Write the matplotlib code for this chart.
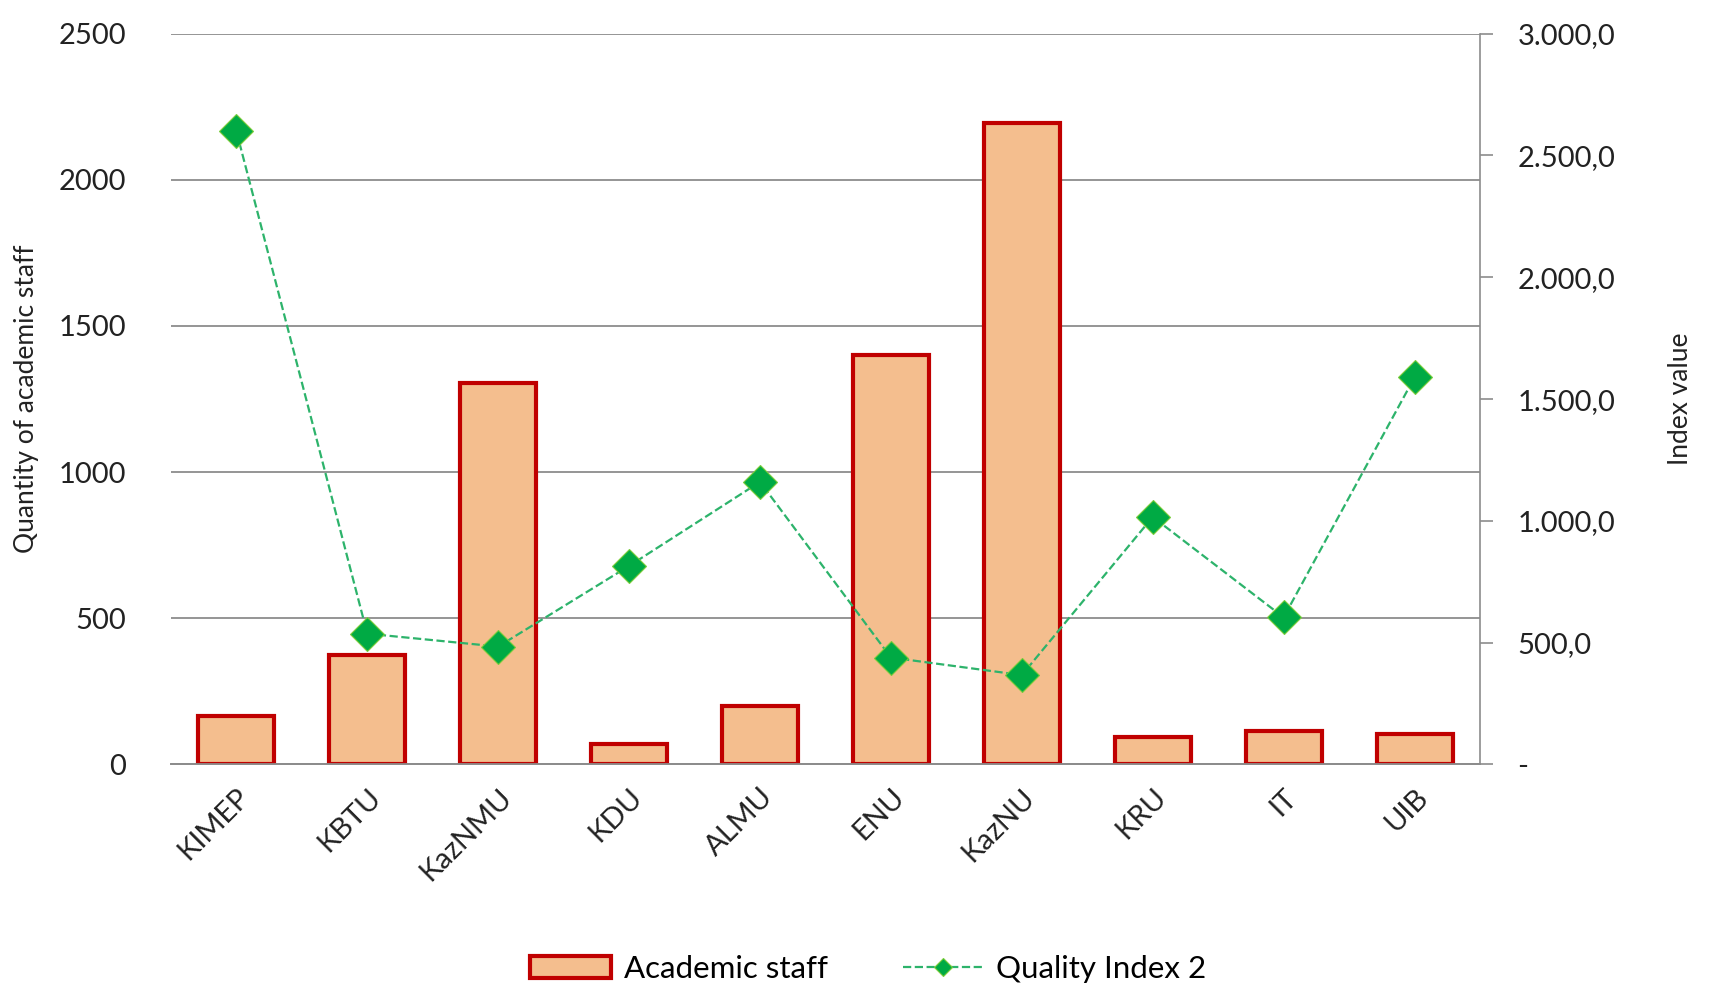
import numpy as np
import matplotlib.pyplot as plt
from matplotlib.ticker import FuncFormatter

plt.rcParams['font.family'] = ['Lato', 'DejaVu Sans']

universities = ['KIMEP', 'KBTU', 'KazNMU', 'KDU', 'ALMU', 'ENU', 'KazNU', 'KRU', 'IT', 'UIB']
academic_staff = [165, 375, 1305, 70, 200, 1400, 2195, 95, 115, 105]
quality_index = [2600, 537, 484, 815, 1160, 439, 367, 1016, 604, 1589]

fig = plt.figure(figsize=(17.09, 9.89), dpi=100)
ax = fig.add_axes([0.100, 0.227, 0.766, 0.739])
ax2 = ax.twinx()

x = np.arange(len(universities))
ax.bar(x, academic_staff, width=0.58, color='#F4BE8E', edgecolor='#C00000', linewidth=3, zorder=3, label='Academic staff')
ax2.plot(x, quality_index, linestyle='--', color='#2DB36B', linewidth=1.6, marker='D', markersize=17,
         markerfacecolor='#00AA44', markeredgecolor='#7ACC3A', markeredgewidth=0.8, zorder=4, label='Quality Index 2')

ax.set_xlim(-0.5, 9.5)
ax.set_ylim(0, 2500)
ax.set_yticks([0, 500, 1000, 1500, 2000, 2500])
ax.yaxis.grid(True, color='#8C8C8C', linewidth=1.3, zorder=0)
ax.set_axisbelow(True)
ax.tick_params(axis='y', length=0, labelsize=21, pad=32, colors='#222222')
ax.tick_params(axis='x', length=0, labelsize=21, pad=14, colors='#222222')
ax.set_xticks(x)
ax.set_xticklabels(universities, rotation=45, ha='right', rotation_mode='anchor')
ax.set_ylabel('Quantity of academic staff', fontsize=19, color='#222222', labelpad=14)

ax2.set_ylim(0, 3000)
ax2.set_yticks([0, 500, 1000, 1500, 2000, 2500, 3000])
ax2.yaxis.set_major_formatter(FuncFormatter(lambda v, p: '-' if v == 0 else f'{v:,.1f}'.replace(',', 'X').replace('.', ',').replace('X', '.')))
ax2.tick_params(axis='y', direction='out', length=9, width=1.2, color='#8C8C8C', labelsize=21, pad=18, colors='#222222')
ax2.tick_params(axis='y', color='#8C8C8C')
ax2.set_ylabel('Index value', fontsize=19, color='#222222', labelpad=38)

for a in (ax, ax2):
    a.spines['top'].set_visible(False)
    a.spines['left'].set_visible(False)
    a.spines['right'].set_visible(False)
    a.spines['bottom'].set_color('#8C8C8C')
    a.spines['bottom'].set_linewidth(1.3)
ax2.spines['right'].set_visible(True)
ax2.spines['right'].set_color('#8C8C8C')
ax2.spines['right'].set_linewidth(1.2)

h1, l1 = ax.get_legend_handles_labels()
h2, l2 = ax2.get_legend_handles_labels()
fig.legend(h1 + h2, l1 + l2, loc='lower center', bbox_to_anchor=(0.508, -0.022), ncol=2, frameon=False,
           fontsize=22.5, handlelength=2.6, columnspacing=2.4, handletextpad=0.4, markerscale=0.55)

fig.savefig('out.png', dpi=100)
